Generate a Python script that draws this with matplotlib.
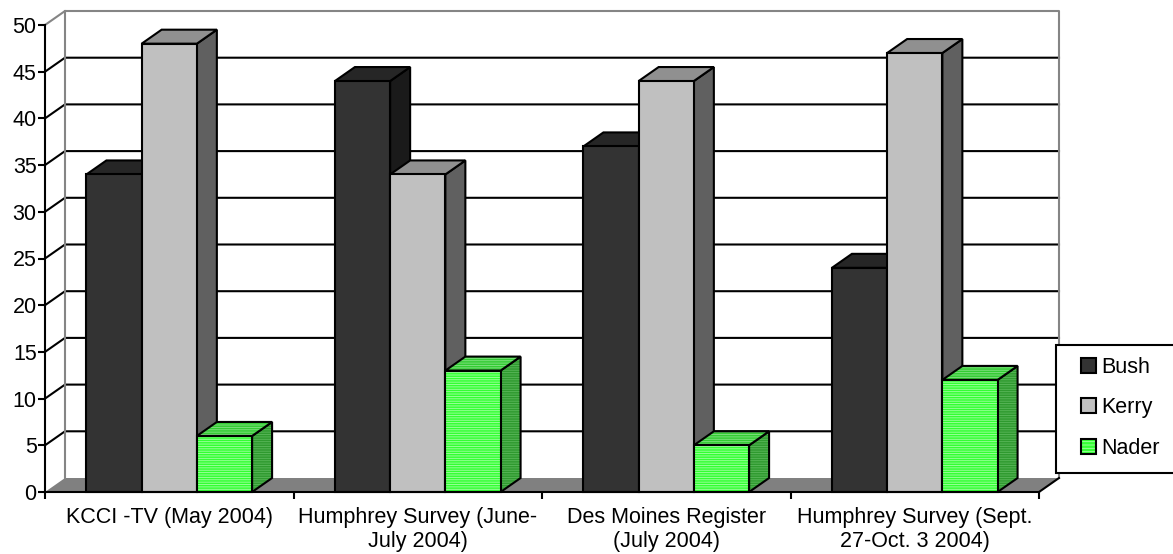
import numpy as np
import matplotlib
matplotlib.use('Agg')
import matplotlib.pyplot as plt
from matplotlib.patches import Polygon, Rectangle, Patch

plt.rcParams['font.family'] = ['Liberation Sans', 'DejaVu Sans']
plt.rcParams['hatch.linewidth'] = 0.6

# data
polls = ['KCCI -TV (May 2004)',
         'Humphrey Survey (June-\nJuly 2004)',
         'Des Moines Register\n(July 2004)',
         'Humphrey Survey (Sept.\n27-Oct. 3 2004)']
candidates = ['Bush', 'Kerry', 'Nader']
bush = [34, 44, 37, 24]
kerry = [48, 34, 44, 47]
nader = [6, 13, 5, 12]
y_ticks = list(range(0, 55, 5))

series = [bush, kerry, nader]
# front, top, side colours; stripe colours for hatched faces
faces = [('#333333', '#262626', '#1a1a1a'),
         ('#c0c0c0', '#909090', '#606060'),
         ('#33ff33', '#33cc33', '#2f9a2f')]
stripes = [None, None, ('#a8ffa8', '#88e088', '#5cb85c')]

FS = 15.5
W, H = 1173, 554
fig = plt.figure(figsize=(W / 100, H / 100), dpi=100)
ax = fig.add_axes([45 / W, 62 / H, 994 / W, 467 / H])
ncat = len(polls)
ymax = y_ticks[-1]
ax.set_xlim(0, ncat)
ax.set_ylim(0, ymax)
ax.patch.set_visible(False)

# 3d depth in data units (20 px across, 14 px up)
DX = 20 / (994 / ncat)
DY = 14 / (467 / ymax)
LW = 1.5

# floor
ax.add_patch(Polygon([(0, 0), (ncat, 0), (ncat + DX, DY), (DX, DY)],
                     closed=True, fc='#808080', ec='none', clip_on=False, zorder=1))
ax.plot([ncat, ncat + DX], [0, DY], color='black', lw=LW, clip_on=False, zorder=1.5)

# gridlines on side and back wall
for v in y_ticks[1:-1]:
    ax.plot([0, DX, ncat + DX], [v, v + DY, v + DY], color='black', lw=LW,
            clip_on=False, zorder=1)
# wall border
ax.plot([0, DX, ncat + DX, ncat + DX], [ymax, ymax + DY, ymax + DY, DY],
        color='#858585', lw=LW, clip_on=False, zorder=1)
ax.plot([DX, DX], [DY, ymax + DY], color='#858585', lw=LW, clip_on=False, zorder=1)

w = 1 / 4.5
z = 3
for i in range(ncat):
    for j, vals in enumerate(series):
        v = vals[i]
        x0 = i + 0.5 + (j - 1.5) * w
        polys = [
            [(x0 + w, 0), (x0 + w + DX, DY), (x0 + w + DX, v + DY), (x0 + w, v)],
            [(x0, v), (x0 + w, v), (x0 + w + DX, v + DY), (x0 + DX, v + DY)],
            [(x0, 0), (x0 + w, 0), (x0 + w, v), (x0, v)],
        ]
        cols = [faces[j][2], faces[j][1], faces[j][0]]
        for k, pts in enumerate(polys):
            if stripes[j] is None:
                ax.add_patch(Polygon(pts, closed=True, fc=cols[k], ec='black',
                                     lw=LW, clip_on=False, zorder=z))
            else:
                sc = [stripes[j][2], stripes[j][1], stripes[j][0]][k]
                ax.add_patch(Polygon(pts, closed=True, fc=cols[k], ec=sc, lw=0,
                                     hatch='-------', clip_on=False, zorder=z))
                ax.add_patch(Polygon(pts, closed=True, fill=False, ec='black',
                                     lw=LW, clip_on=False, zorder=z + 0.5))
            z += 1

for s in ['top', 'right']:
    ax.spines[s].set_visible(False)
for s in ['left', 'bottom']:
    ax.spines[s].set_linewidth(LW)
    ax.spines[s].set_zorder(z + 5)

ax.set_yticks(y_ticks)
ax.tick_params(axis='y', length=5, width=LW, labelsize=FS, pad=1)
ax.set_xticks(np.arange(ncat + 1))
ax.set_xticklabels([])
ax.tick_params(axis='x', which='major', length=5, width=LW)
ax.set_xticks(np.arange(ncat) + 0.5, minor=True)
ax.set_xticklabels(polls, minor=True)
ax.tick_params(axis='x', which='minor', length=0, labelsize=FS, pad=11)

# legend box runs off the right edge
fig.patches.append(Rectangle((1056 / W, (H - 473) / H), 0.2, 128 / H,
                             transform=fig.transFigure, fc='white', ec='black',
                             lw=LW, zorder=5))
handles = []
for j in range(3):
    if stripes[j] is None:
        handles.append(Patch(fc=faces[j][0], ec='black', lw=LW))
    else:
        handles.append((Patch(fc=faces[j][0], ec=stripes[j][0], lw=0, hatch='-----'),
                        Patch(fill=False, ec='black', lw=LW)))
leg = fig.legend(handles, candidates, loc='upper left',
                 bbox_to_anchor=(1081 / W, 1 - 357 / H), frameon=False,
                 fontsize=FS, borderpad=0, borderaxespad=0,
                 handlelength=0.68, handleheight=0.68, handletextpad=0.25,
                 labelspacing=0.9)
leg.set_zorder(6)

fig.savefig('out.png', dpi=100)
